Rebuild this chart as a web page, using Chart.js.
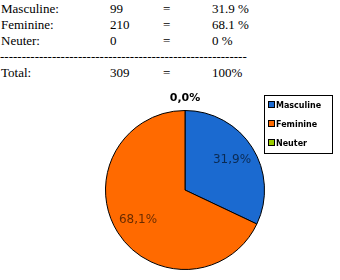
<!DOCTYPE html>
<html>
<head>
<meta charset="utf-8">
<script src="https://cdn.jsdelivr.net/npm/chart.js@4"></script>
<style>
	body { margin: 0; width: 340px; height: 280px; background: #fff; position: relative; overflow: hidden; }
	#table { position: absolute; left: 0; top: 1px; font-family: "Liberation Serif", "DejaVu Serif", "Times New Roman", serif; font-size: 13px; color: #000; }
	#table div { height: 16px; line-height: 16px; white-space: nowrap; position: relative; }
	#table span { position: absolute; }
	#chartBox { position: absolute; left: 95px; top: 85px; width: 180px; height: 195px; }
	#legend { position: absolute; left: 264px; top: 95px; width: 69px; height: 59px; border: 1px solid #000; box-sizing: border-box; font-family: "DejaVu Sans", sans-serif; font-size: 8px; font-weight: bold; }
	#legend div { position: absolute; left: 3px; height: 10px; line-height: 10px; }
	#legend i { display: inline-block; width: 5px; height: 5px; border: 1px solid #000; margin-right: 1px; vertical-align: 0px; }
</style>
</head>
<body>
<div id="table"></div>
<div id="chartBox"><canvas id="genderPie"></canvas></div>
<div id="legend"></div>
<script>
//GENDER STATS

const genderLabels = ["Masculine", "Feminine", "Neuter"];
const genderCounts = [99, 210, 0];
const genderPercentText = ["31.9 %", "68.1 %", "0 %"];
const pieLabelText = ["31,9%", "68,1%", "0,0%"];
const genderColors = ["#1b6ad0", "#ff6a00", "#99cc00"];
const totalCount = 309;

//Summary table on top
const table = document.getElementById("table");
const rows = genderLabels.map((g, i) => [g + ":", String(genderCounts[i]), "=", genderPercentText[i]]);
rows.push(null);
rows.push(["Total:", String(totalCount), "=", "100%"]);
const colX = [1, 110, 163, 212];
rows.forEach((r) => {
	const line = document.createElement("div");
	if (r === null) {
		line.textContent = "-".repeat(57);
	} else {
		r.forEach((t, i) => {
			const s = document.createElement("span");
			s.style.left = colX[i] + "px";
			s.textContent = t;
			line.appendChild(s);
		});
	}
	table.appendChild(line);
});

//Legend
const legend = document.getElementById("legend");
genderLabels.forEach((g, i) => {
	const item = document.createElement("div");
	item.style.top = (5 + i * 19) + "px";
	item.innerHTML = '<i style="background:' + genderColors[i] + '"></i>' + g;
	legend.appendChild(item);
});

//Percent labels on the slices
const sliceLabels = {
	id: "sliceLabels",
	afterDatasetsDraw(chart) {
		const ctx = chart.ctx;
		const meta = chart.getDatasetMeta(0);
		ctx.save();
		ctx.textAlign = "center";
		ctx.textBaseline = "middle";
		meta.data.forEach((arc, i) => {
			const p = arc.getProps(["x", "y", "startAngle", "endAngle", "outerRadius"], true);
			const mid = (p.startAngle + p.endAngle) / 2;
			if (genderCounts[i] === 0) {
				ctx.font = "bold 11px 'DejaVu Sans'";
				ctx.fillStyle = "#000";
				ctx.fillText(pieLabelText[i], p.x, p.y - p.outerRadius - 12);
			} else {
				ctx.font = "12px 'DejaVu Sans'";
				ctx.fillStyle = "rgba(0,0,0,0.6)";
				const r = p.outerRadius * 0.7;
				ctx.fillText(pieLabelText[i], p.x + Math.cos(mid) * r, p.y + Math.sin(mid) * r);
			}
		});
		ctx.restore();
	},
};

const genderData = {
	labels: genderLabels,
	datasets: [
		{
			data: genderCounts,
			backgroundColor: genderColors,
			borderColor: "#000",
			borderWidth: 1,
		},
	],
};

const genderConfig = {
	type: "pie",
	data: genderData,
	options: {
		responsive: true,
		maintainAspectRatio: false,
		animation: false,
		layout: { padding: { top: 20, bottom: 5, left: 10, right: 10 } },
		plugins: { legend: { display: false }, tooltip: { enabled: false } },
	},
	plugins: [sliceLabels],
};

const GenderChart = new Chart(document.getElementById("genderPie"), genderConfig);
</script>
</body>
</html>
